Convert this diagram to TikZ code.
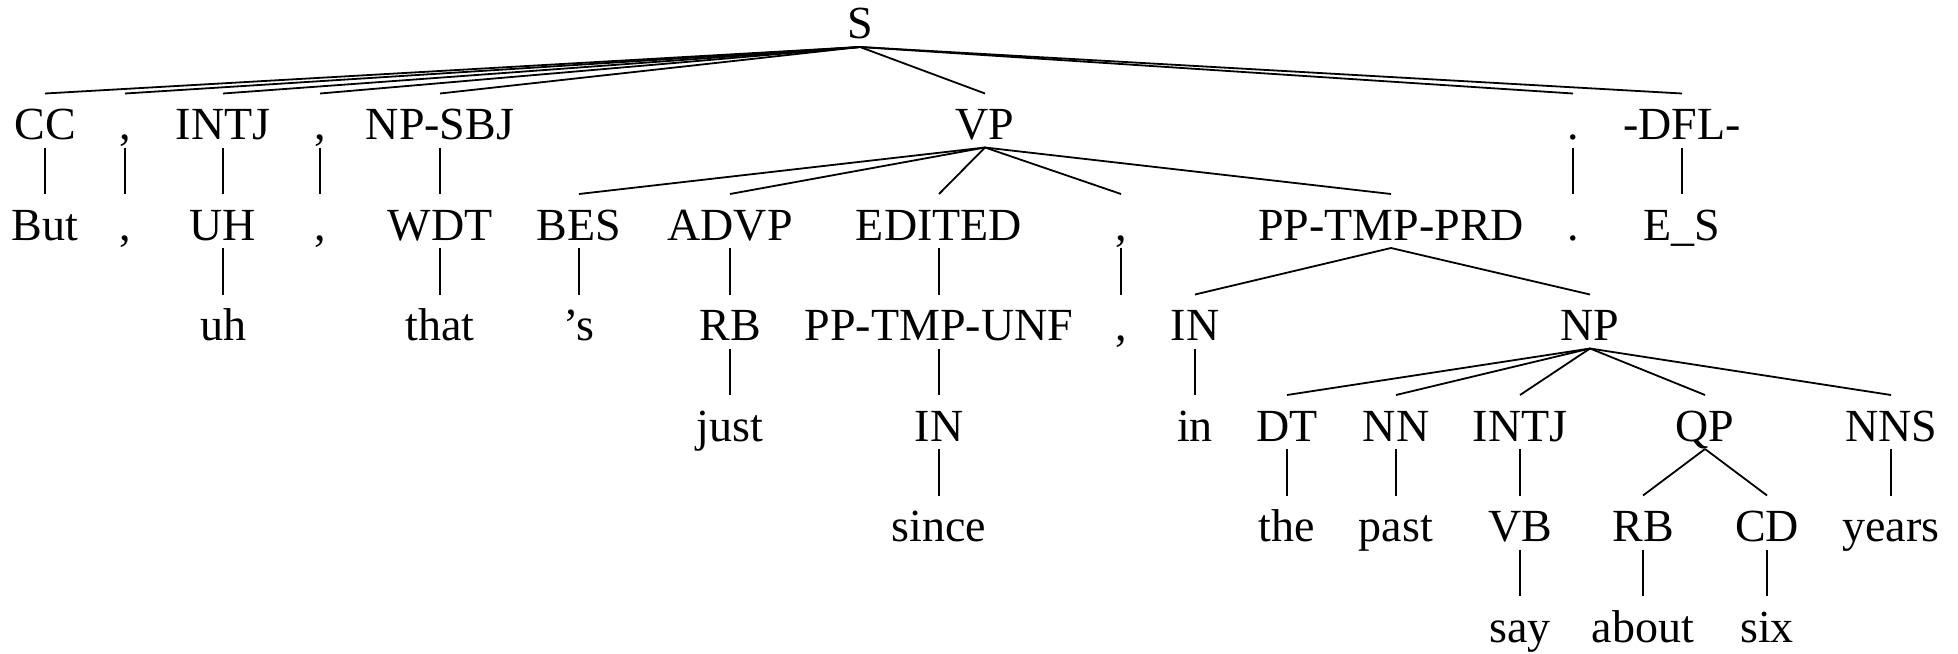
\documentclass[tikz,border=0pt]{standalone}
\usepackage{fontspec}
\setmainfont{Liberation Serif}
\begin{document}
\begin{tikzpicture}[x=0.5pt,y=-0.5pt,
  tn/.style={inner sep=0pt, outer sep=0pt, text height=23pt, text depth=4pt, anchor=base, font=\fontsize{23}{27}\selectfont},
  edge/.style={line width=0.9pt}]
\useasboundingbox (0,0) rectangle (1958,653);
% level 0
\node[tn] (S) at (860,39) {S};
% level 1
\node[tn] (cc) at (45,139.5) {CC};
\node[tn] (c1p) at (125,139.5) {,};
\node[tn] (intj) at (223,139.5) {INTJ};
\node[tn] (c2p) at (320,139.5) {,};
\node[tn] (npsbj) at (440,139.5) {NP-SBJ};
\node[tn] (vp) at (985,139.5) {VP};
\node[tn] (dotp) at (1573,139.5) {.};
\node[tn] (dfl) at (1682,139.5) {-DFL-};
% level 2
\node[tn] (but) at (45,240) {But};
\node[tn] (c1w) at (125,240) {,};
\node[tn] (uhp) at (223,240) {UH};
\node[tn] (c2w) at (320,240) {,};
\node[tn] (wdt) at (440,240) {WDT};
\node[tn] (bes) at (579,240) {BES};
\node[tn] (advp) at (730,240) {ADVP};
\node[tn] (edited) at (939,240) {EDITED};
\node[tn] (c3p) at (1121,240) {,};
\node[tn] (pptmp) at (1391,240) {PP-TMP-PRD};
\node[tn] (dotw) at (1573,240) {.};
\node[tn] (es) at (1682,240) {E\_S};
% level 3
\node[tn] (uh) at (223,340.5) {uh};
\node[tn] (that) at (440,340.5) {that};
\node[tn] (sw) at (579,340.5) {’s};
\node[tn] (rba) at (730,340.5) {RB};
\node[tn] (ppunf) at (939,340.5) {PP-TMP-UNF};
\node[tn] (c3w) at (1121,340.5) {,};
\node[tn] (ina) at (1195,340.5) {IN};
\node[tn] (np) at (1590,340.5) {NP};
% level 4
\node[tn] (just) at (730,441) {just};
\node[tn] (inb) at (939,441) {IN};
\node[tn] (inw) at (1195,441) {in};
\node[tn] (dt) at (1287,441) {DT};
\node[tn] (nn) at (1396,441) {NN};
\node[tn] (intjb) at (1520,441) {INTJ};
\node[tn] (qp) at (1705,441) {QP};
\node[tn] (nns) at (1891,441) {NNS};
% level 5
\node[tn] (since) at (939,541.5) {since};
\node[tn] (the) at (1287,541.5) {the};
\node[tn] (past) at (1396,541.5) {past};
\node[tn] (vb) at (1520,541.5) {VB};
\node[tn] (rbb) at (1643,541.5) {RB};
\node[tn] (cd) at (1767,541.5) {CD};
\node[tn] (years) at (1891,541.5) {years};
% level 6
\node[tn] (say) at (1520,642) {say};
\node[tn] (about) at (1643,642) {about};
\node[tn] (six) at (1767,642) {six};
% edges
\foreach \a/\b in {S/cc,S/c1p,S/intj,S/c2p,S/npsbj,S/vp,S/dotp,S/dfl,
  cc/but,c1p/c1w,intj/uhp,c2p/c2w,npsbj/wdt,dotp/dotw,dfl/es,
  uhp/uh,wdt/that,
  vp/bes,vp/advp,vp/edited,vp/c3p,vp/pptmp,
  bes/sw,advp/rba,edited/ppunf,c3p/c3w,pptmp/ina,pptmp/np,
  rba/just,ppunf/inb,ina/inw,np/dt,np/nn,np/intjb,np/qp,np/nns,
  inb/since,dt/the,nn/past,intjb/vb,qp/rbb,qp/cd,nns/years,
  vb/say,rbb/about,cd/six}
  \draw[edge] (\a.south) -- (\b.north);
\end{tikzpicture}
\end{document}
